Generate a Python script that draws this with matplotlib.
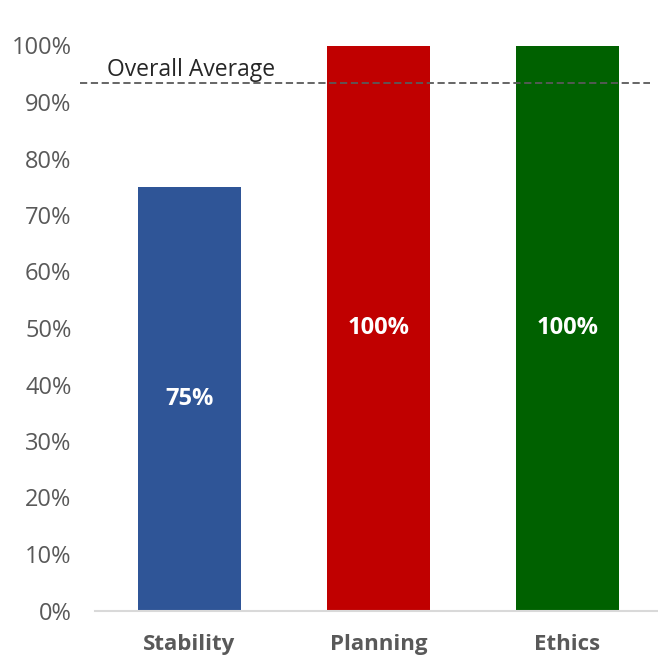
import matplotlib
matplotlib.use("Agg")
import matplotlib.pyplot as plt

# data
categories = ["Stability", "Planning", "Ethics"]
scores = [75, 100, 100]
bar_colors = ["#2F5597", "#C00000", "#006100"]
overall_average = 93.4
y_ticks = list(range(0, 101, 10))

plt.rcParams['font.family'] = ['Open Sans', 'DejaVu Sans']

fig = plt.figure(figsize=(6.58, 6.60), dpi=100)
ax = fig.add_axes([95 / 658, 49.5 / 660, 563 / 658, 565 / 660])

bars = ax.bar(categories, scores, width=0.545, color=bar_colors)
ax.bar_label(bars, labels=[f"{v}%" for v in scores], label_type='center',
             color='white', fontsize=17, fontweight='bold')

# overall average reference line
ax.axhline(overall_average, xmin=-0.027, xmax=0.986, color='#595959',
           linestyle=(0, (4, 2)), linewidth=1.3, clip_on=False)
ax.text(0.021, overall_average + 0.1, "Overall Average", transform=ax.get_yaxis_transform(),
        fontsize=16.5, color='#262626', ha='left', va='bottom')

ax.set_xlim(-0.5, 2.48)
ax.set_ylim(0, 100)
ax.set_yticks(y_ticks)
ax.set_yticklabels([f"{t}%" for t in y_ticks])

for side in ['top', 'right', 'left']:
    ax.spines[side].set_visible(False)
ax.spines['bottom'].set_color('#D9D9D9')
ax.spines['bottom'].set_linewidth(1.5)

ax.tick_params(axis='y', length=0, pad=17, labelsize=17, labelcolor='#595959')
ax.tick_params(axis='x', length=0, pad=17, labelsize=16, labelcolor='#595959')
for lbl in ax.get_xticklabels():
    lbl.set_fontweight('bold')

fig.savefig("out.png", dpi=100)
